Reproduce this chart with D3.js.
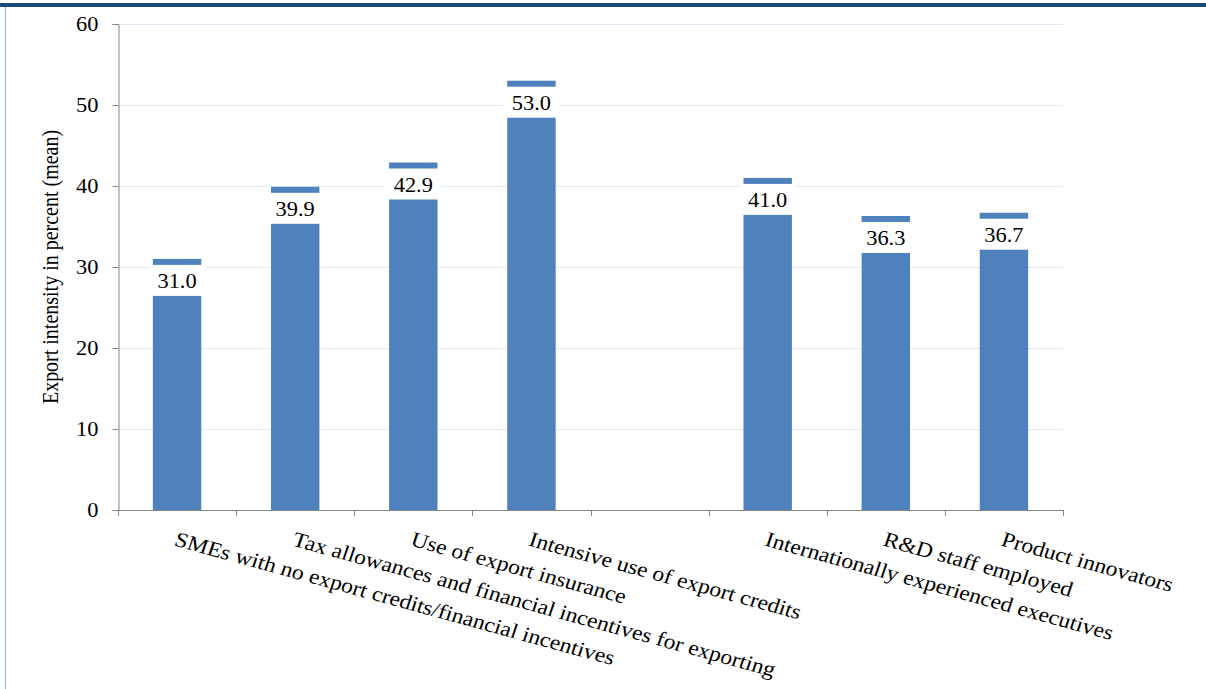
<!DOCTYPE html>
<html>
<head>
<meta charset="utf-8">
<script src="https://cdn.jsdelivr.net/npm/d3@7/dist/d3.min.js"></script>
<style>
  html, body { margin: 0; padding: 0; background: #fff; }
  svg { display: block; }
  svg text { font-family: "Liberation Serif", "Times New Roman", "DejaVu Serif", serif; fill: #000; }
</style>
</head>
<body>
<svg id="chart" width="1206" height="689"></svg>
<script>
// Export intensity by SME group (blank slot separates the two groups)
const categories = [
  "SMEs with no export credits/financial incentives",
  "Tax allowances and financial incentives for exporting",
  "Use of export insurance",
  "Intensive use of export credits",
  "",
  "Internationally experienced executives",
  "R&D staff employed",
  "Product innovators"
];
const values = [31.0, 39.9, 42.9, 53.0, null, 41.0, 36.3, 36.7];
const yTicks = [0, 10, 20, 30, 40, 50, 60];
const yTitle = "Export intensity in percent (mean)";

const FONT = "'Liberation Serif', 'Times New Roman', 'DejaVu Serif', serif";
const SX = 1.12; // horizontal widening of the lettering
const svg = d3.select("#chart");
const plot = { left: 118, right: 1063, top: 24, bottom: 510 };

const x = d3.scaleBand()
  .domain(d3.range(categories.length))
  .range([plot.left, plot.right])
  .paddingInner(0.59)
  .paddingOuter(0.295);

const y = d3.scaleLinear().domain([0, 60]).range([plot.bottom, plot.top]);

// page frame: header rule and left margin line
svg.append("rect").attr("x", 0).attr("y", 3).attr("width", 1206).attr("height", 4).attr("fill", "#1f497d");
svg.append("line").attr("x1", 5.5).attr("x2", 5.5).attr("y1", 7).attr("y2", 689)
  .attr("stroke", "#8db3e2").attr("stroke-width", 1);

// gridlines
svg.append("g").selectAll("line")
  .data(yTicks.filter(t => t > 0))
  .join("line")
  .attr("x1", plot.left).attr("x2", plot.right)
  .attr("y1", d => Math.round(y(d)) + 0.5).attr("y2", d => Math.round(y(d)) + 0.5)
  .attr("stroke", "#e4eaf5").attr("stroke-width", 1);

// y axis
const yAxis = svg.append("g")
  .attr("transform", `translate(${plot.left + 0.5},0)`)
  .call(d3.axisLeft(y).tickValues(yTicks).tickSize(6).tickPadding(13));
yAxis.attr("font-family", FONT);
yAxis.select(".domain").attr("stroke", "#868686");
yAxis.selectAll(".tick line").attr("stroke", "#868686");
yAxis.selectAll(".tick text")
  .attr("font-size", 20)
  .attr("x", 0)
  .attr("transform", `translate(-20,0) scale(${SX},1)`)
  .style("fill", "#000");

svg.append("text")
  .attr("transform", `translate(58,267) rotate(-90) scale(1,${SX})`)
  .attr("text-anchor", "middle")
  .attr("font-size", 20)
  .style("font-family", FONT)
  .text(yTitle);

// bars
const barData = values.map((v, i) => ({ i, v })).filter(d => d.v != null);
svg.append("g").selectAll("rect")
  .data(barData)
  .join("rect")
  .attr("x", d => x(d.i))
  .attr("width", x.bandwidth())
  .attr("y", d => y(d.v))
  .attr("height", d => y(0) - y(d.v))
  .attr("fill", "#4f81bd");

// value labels on white boxes just below each bar top
const lab = svg.append("g").selectAll("g")
  .data(barData)
  .join("g")
  .attr("transform", d => `translate(${x(d.i) + x.bandwidth() / 2},${y(d.v) + 6})`);
lab.append("rect")
  .attr("x", -28).attr("width", 56)
  .attr("y", 0).attr("height", 31)
  .attr("fill", "#fff");
lab.append("text")
  .attr("text-anchor", "middle")
  .attr("transform", `translate(0,23) scale(${SX},1)`)
  .attr("font-size", 20)
  .style("font-family", FONT)
  .text(d => d.v.toFixed(1));

// x axis with ticks at category boundaries
svg.append("line")
  .attr("x1", plot.left).attr("x2", plot.right)
  .attr("y1", plot.bottom + 0.5).attr("y2", plot.bottom + 0.5)
  .attr("stroke", "#868686");
const bounds = d3.range(categories.length + 1).map(i => plot.left + i * x.step());
svg.append("g").selectAll("line")
  .data(bounds)
  .join("line")
  .attr("x1", d => Math.round(d) + 0.5).attr("x2", d => Math.round(d) + 0.5)
  .attr("y1", plot.bottom).attr("y2", plot.bottom + 6)
  .attr("stroke", "#868686");

// rotated category labels
svg.append("g").selectAll("text")
  .data(categories.map((c, i) => ({ c, i })).filter(d => d.c))
  .join("text")
  .attr("transform", d => `translate(${x(d.i) + x.bandwidth() / 2 + 1},${plot.bottom + 21}) scale(${SX},1) rotate(17)`)
  .attr("y", 15)
  .attr("font-size", 21)
  .style("font-family", FONT)
  .text(d => d.c);
</script>
</body>
</html>
